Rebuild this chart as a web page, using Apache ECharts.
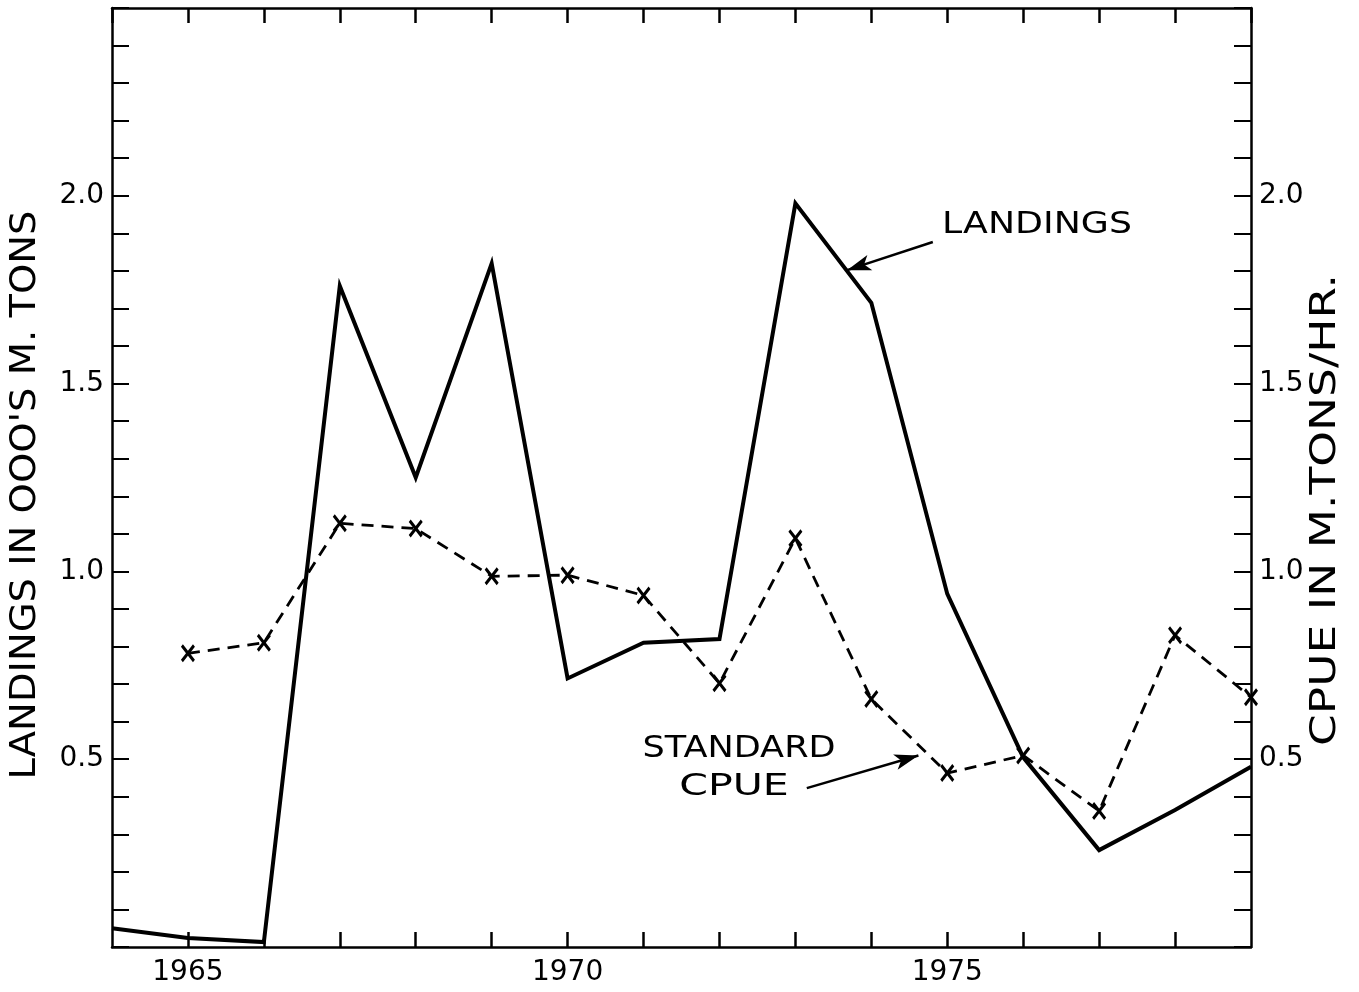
<!DOCTYPE html>
<html>
<head>
<meta charset="utf-8">
<script src="https://cdn.jsdelivr.net/npm/echarts@6/dist/echarts.min.js"></script>
<style>
html,body{margin:0;padding:0;background:#fff;}
#chart{width:1359px;height:992px;}
</style>
</head>
<body>
<div id="chart"></div>
<script>
// ---- data ----
var landingYears = [1964,1965,1966,1967,1968,1969,1970,1971,1972,1973,1974,1975,1976,1977,1978,1979];
var landings     = [0.05,0.024,0.013,1.76,1.25,1.82,0.715,0.81,0.82,1.98,1.715,0.94,0.505,0.258,0.365,0.48];
var cpueYears    = [1965,1966,1967,1968,1969,1970,1971,1972,1973,1974,1975,1976,1977,1978,1979];
var cpue         = [0.782,0.81,1.128,1.114,0.987,0.99,0.936,0.702,1.088,0.66,0.463,0.51,0.362,0.83,0.665];
var tickYears    = [1965,1966,1967,1968,1969,1970,1971,1972,1973,1974,1975,1976,1977,1978];
var xLabelYears  = [1965,1970,1975];
var yLabelValues = [0.5,1.0,1.5,2.0];
var leftTitle  = "LANDINGS IN OOO'S M. TONS";
var rightTitle = "CPUE IN M.TONS/HR.";
var landingsNote = "LANDINGS";
var cpueNote1 = "STANDARD";
var cpueNote2 = "CPUE";
// annotation arrows in data units: [start, tip]
var landingsArrow = [[1974.81, 1.877], [1973.68, 1.802]];
var cpueArrow     = [[1973.15, 0.423], [1974.62, 0.51]];

var FONT = 'DejaVu Sans';
var BOTTOM_TICK = 0.04; // inward tick length on the bottom axis, in axis units (~15px)
var chart = echarts.init(document.getElementById('chart'), null, {renderer:'canvas'});

function pairs(xs, ys){ return xs.map(function(x,i){ return [x, ys[i]]; }); }
function yFmt(v){
  for (var i=0;i<yLabelValues.length;i++){ if (Math.abs(v - yLabelValues[i]) < 1e-6) return yLabelValues[i].toFixed(1); }
  return '';
}
function xFmt(v){ return xLabelYears.indexOf(Math.round(v)) >= 0 ? String(Math.round(v)) : ''; }

function yAxisDef(pos){
  return {
    type:'value', min:0, max:2.5, interval:0.1, position:pos,
    axisLine:{show:true, onZero:false, lineStyle:{color:'#000', width:2.5}},
    splitLine:{show:false},
    axisTick:{show:true, inside:true, length:17, lineStyle:{color:'#000', width:2}},
    axisLabel:{show:true, formatter:yFmt, color:'#000', fontSize:28, fontFamily:FONT, margin:8}
  };
}

var xMarker = 'path://M0,1.4 L1.4,0 L5,3.6 L8.6,0 L10,1.4 L6.4,5 L10,8.6 L8.6,10 L5,6.4 L1.4,10 L0,8.6 L3.6,5 Z';

function txt(x, y, text, size, sx, rot){
  return {type:'text', x:x, y:y, rotation:rot||0, scaleX:sx||1,
    style:{text:text, fill:'#000', font:size+'px "'+FONT+'"', textAlign:'center', textVerticalAlign:'middle'}};
}

var option = {
  backgroundColor:'#fff',
  animation:false,
  grid:{left:112, right:108, top:8, bottom:45, containLabel:false},
  xAxis:[
    {type:'value', min:1964, max:1979, interval:1, position:'bottom',
     axisLine:{show:true, onZero:false, lineStyle:{color:'#000', width:2.5}},
     splitLine:{show:false},
     axisTick:{show:false},
     axisLabel:{show:true, formatter:xFmt, color:'#000', fontSize:28, fontFamily:FONT, margin:12}},
    {type:'value', min:1964, max:1979, interval:1, position:'top',
     axisLine:{show:true, onZero:false, lineStyle:{color:'#000', width:2.5}},
     splitLine:{show:false},
     axisTick:{show:true, inside:true, length:15, lineStyle:{color:'#000', width:2.5}},
     axisLabel:{show:false}}
  ],
  yAxis:[ yAxisDef('left'), yAxisDef('right') ],
  series:[
    {
      name:'Landings', type:'line', xAxisIndex:0, yAxisIndex:0,
      data: pairs(landingYears, landings),
      showSymbol:false, symbol:'none',
      lineStyle:{color:'#000', width:4, join:'miter'},
      markLine:{
        silent:true, symbol:['none','arrow'], symbolSize:[12,24],
        lineStyle:{color:'#000', width:2.5, type:'solid'},
        label:{show:false},
        data:[[{coord:landingsArrow[0]},{coord:landingsArrow[1]}]]
      }
    },
    {
      name:'CPUE', type:'line', xAxisIndex:0, yAxisIndex:1,
      data: pairs(cpueYears, cpue),
      symbol:xMarker, symbolSize:[14,18], showSymbol:true, clip:false,
      itemStyle:{color:'#000'},
      lineStyle:{color:'#000', width:2.8, type:[12,8]},
      markLine:{
        silent:true, symbol:['none','arrow'], symbolSize:[12,24],
        lineStyle:{color:'#000', width:2.5, type:'solid'},
        label:{show:false},
        data:[[{coord:cpueArrow[0]},{coord:cpueArrow[1]}]]
      }
    },
    {
      // carrier for the inward year ticks on the bottom axis
      name:'bottomTicks', type:'line', xAxisIndex:0, yAxisIndex:0,
      data: pairs(landingYears, landings),
      showSymbol:false, symbol:'none', silent:true,
      lineStyle:{opacity:0},
      markLine:{
        silent:true, symbol:['none','none'],
        lineStyle:{color:'#000', width:2.5, type:'solid'},
        label:{show:false},
        data: tickYears.map(function(y){ return [{coord:[y, 0]}, {coord:[y, BOTTOM_TICK]}]; })
      }
    }
  ],
  graphic:[
    txt(26, 495, leftTitle, 35, 1.1, Math.PI/2),
    txt(1326, 510, rightTitle, 35, 1.3, Math.PI/2),
    txt(1037, 225, landingsNote, 31, 1.17),
    txt(739, 749, cpueNote1, 30, 1.17),
    txt(734, 787, cpueNote2, 30, 1.37)
  ]
};
chart.setOption(option);
</script>
</body>
</html>
